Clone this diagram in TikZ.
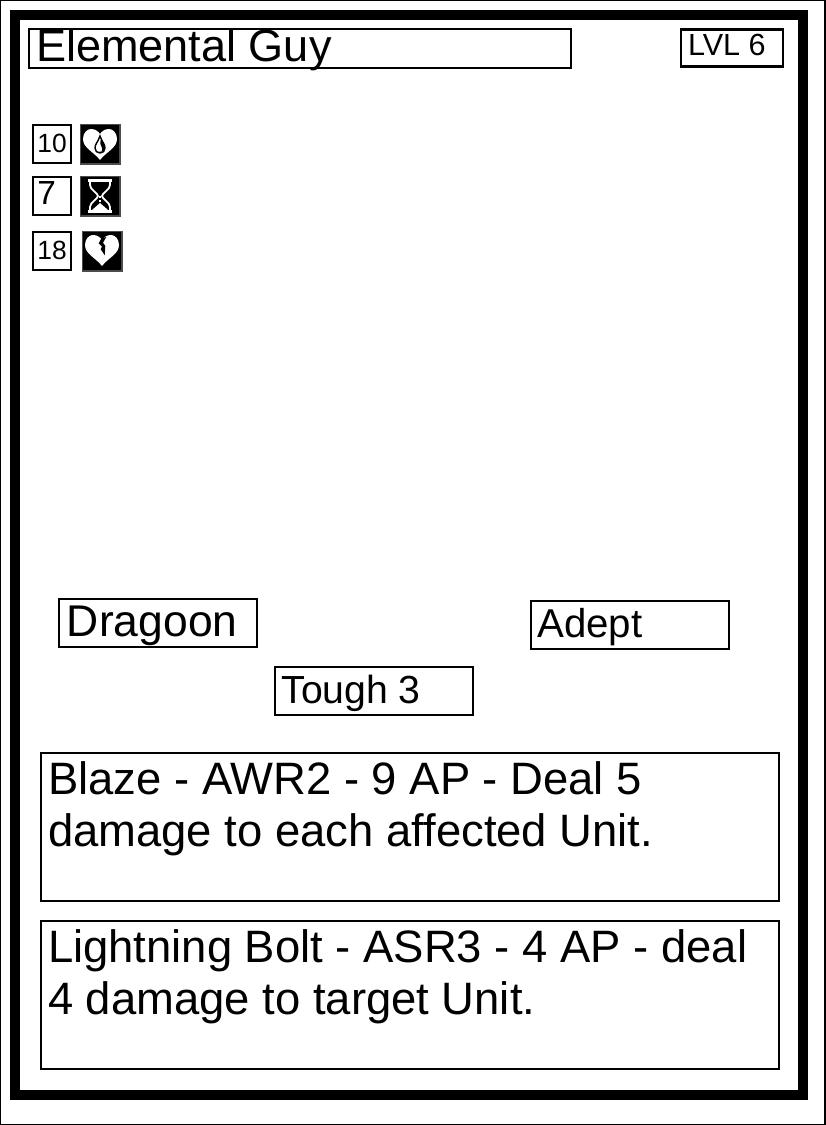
\documentclass[tikz,border=0pt]{standalone}
\usepackage{fontspec}
\setmainfont{Liberation Sans}
\usepackage{tikz}
\usetikzlibrary{positioning}
% one pixel of the card is 0.02cm = 0.569pt
\newcommand{\cardfont}[1]{\fontsize{#1}{29.6pt}\selectfont}
\tikzset{
    cardbox/.style={draw=black, line width=1.2pt, fill=white, anchor=north west, inner xsep=4pt, inner ysep=0pt, align=flush left},
    statbox/.style={cardbox, inner xsep=2.5pt, text width=16.5pt, text height=15.4pt, text depth=6.16pt},
    wordbox/.style={cardbox, text width=104.6pt, text height=20.6pt, text depth=6.65pt},
    spellbox/.style={cardbox, text width=411.9pt, text height=23.3pt, text depth=60.85pt, font=\cardfont{25.85pt}},
    iconbox/.style={draw=black!70, line width=0.6pt, fill=black, anchor=north west, inner sep=0pt, minimum width=0.79cm, minimum height=0.79cm},
    iconline/.style={draw=white, line width=1pt}
}
\begin{document}
\begin{tikzpicture}[x=0.02cm,y=-0.02cm]
            \useasboundingbox (0,0) rectangle (825,1125);
            \draw[black, line width=0.6pt] (0,0) rectangle (825,1125);

            % card frame
            \draw[black, line width=5.7pt] (15,15) rectangle (803,1095);

            % name and level
            \node[cardbox, text width=300.3pt, text height=18.5pt, text depth=3.6pt, font=\cardfont{25.65pt}] (name) at (28,28) {Elemental Guy};
            \node[cardbox, text width=50pt, text height=15pt, text depth=6pt, font=\cardfont{17.4pt}] (level) at (680,28.5) {LVL 6};

            % stats
            \node[statbox, font=\cardfont{15pt}] (stata) at (32,124) {10};
            \node[statbox, font=\cardfont{19pt}] (statb) at (32,176) {7};
            \node[statbox, font=\cardfont{15pt}] (statc) at (32,231) {18};

            % drop in a heart
            \node[iconbox] (iconheart) at (80,124) {};
            \begin{scope}[shift={(80,124)}]
            \fill[white] (20,36) .. controls (14,28) and (3,24) .. (3,15) .. controls (3,9) and (7,5) .. (11,5) .. controls (15,5) and (18,7) .. (20,10) .. controls (22,7) and (25,5) .. (29,5) .. controls (33,5) and (37,9) .. (37,15) .. controls (37,24) and (26,28) .. (20,36) -- cycle;
            \draw[black, line width=0.8pt] (20,12) .. controls (18,18) and (15,20) .. (15,24) .. controls (15,27) and (17,29) .. (20,29) .. controls (23,29) and (25,27) .. (25,24) .. controls (25,20) and (22,18) .. (20,12) -- cycle;
            \fill[black] (21,15) .. controls (20,19) and (20,21) .. (22,24) .. controls (23,27) and (21,28) .. (19,28) .. controls (22,28) and (25,27) .. (25,24) .. controls (25,20) and (22,18) .. (21,15) -- cycle;
            \end{scope}

            % hourglass
            \node[iconbox] (iconglass) at (80,176) {};
            \begin{scope}[shift={(80,176)}]
            \fill[white] (8,3) rectangle (32,6);
            \fill[white] (8,34) rectangle (32,37);
            \draw[iconline] (10,6) -- (10,9) .. controls (10,14) and (18,17) .. (18,20) .. controls (18,23) and (10,26) .. (10,31) -- (10,34);
            \draw[iconline] (30,6) -- (30,9) .. controls (30,14) and (22,17) .. (22,20) .. controls (22,23) and (30,26) .. (30,31) -- (30,34);
            \fill[white] (12,34) -- (20,27) -- (28,34) -- cycle;
            \draw[iconline, dash pattern=on 1.2pt off 1.2pt] (20,20) -- (20,28);
            \end{scope}

            % broken heart
            \node[iconbox] (iconbroken) at (82,231) {};
            \begin{scope}[shift={(82,231)}]
            \fill[white] (20,35) .. controls (14,27) and (3,23) .. (3,14) .. controls (3,8) and (7,4) .. (11,4) .. controls (15,4) and (18,6) .. (20,9) .. controls (22,6) and (25,4) .. (29,4) .. controls (33,4) and (37,8) .. (37,14) .. controls (37,23) and (26,27) .. (20,35) -- cycle;
            \fill[black] (19.3,7.5) -- (16.7,12.3) -- (20,15.7) -- (18.7,18.3) -- (22.7,24.3) -- (23.3,15) -- (21,11.7) -- (24.3,6) -- cycle;
            \end{scope}

            % keywords
            \node[wordbox, text height=21.5pt, text depth=5.75pt, inner xsep=4.5pt, text width=103.6pt, font=\cardfont{25.3pt}] (classa) at (58,598) {Dragoon};
            \node[wordbox, inner xsep=3.6pt, text width=105.4pt, font=\cardfont{22.9pt}] (classb) at (530,600) {Adept};
            \node[wordbox, inner xsep=3.6pt, text width=105.4pt, font=\cardfont{22.3pt}] (trait) at (274,666) {Tough 3};

            % abilities
            \node[spellbox] (blaze) at (40,752) {Blaze - AWR2 - 9 AP - Deal 5\\damage to each affected Unit.};
            \node[spellbox] (bolt) at (40,920) {Lightning Bolt - ASR3 - 4 AP - deal\\4 damage to target Unit.};
            \end{tikzpicture}
\end{document}
